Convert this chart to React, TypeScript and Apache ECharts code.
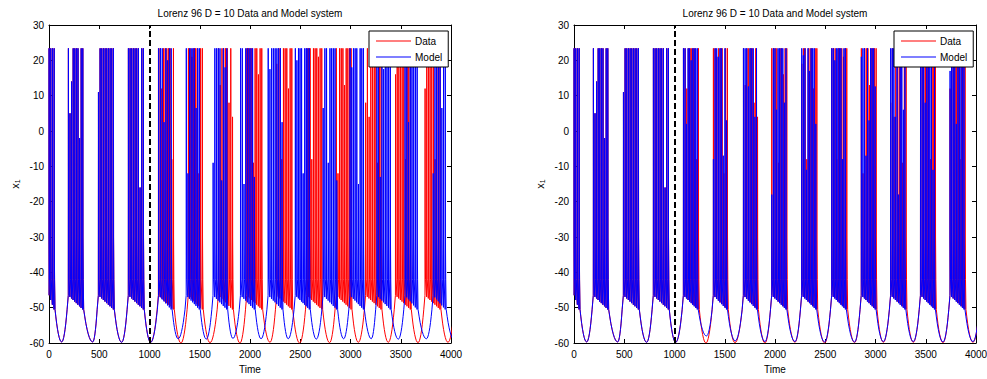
import React, { useEffect, useRef } from 'react';
import * as echarts from 'echarts';

const FONT = '"Liberation Sans", Arial, Helvetica, sans-serif';
const TITLE = 'Lorenz 96 D = 10 Data and Model system';

// ---- axis ticks ----
const X_MIN = 0, X_MAX = 4000, X_STEP = 500;
const Y_MIN = -60, Y_MAX = 30, Y_STEP = 10;
const SYNC_END = 1000; // end of the synchronisation window (dashed line)

// ---- spike shape ----
const SPIKE_BASE = [-46.5, -50.5];        // inter-spike minimum at first / last spike
const SPIKE_DT = [1.2, 2.6, 5.5];          // time after spike onset
const SPIKE_FALL = [-30, -42];             // values after the peak
const PLATEAU = -50.6;
const DESC_F = [0, 0.125, 0.25, 0.375, 0.5, 0.625, 0.75, 0.875, 1];
const DESC_G = [0, 0.23, 0.44, 0.61, 0.75, 0.86, 0.94, 0.985, 1];
const RISE_F = [0, 0.125, 0.25, 0.375, 0.5, 0.625, 0.75, 0.875, 1];
const RISE_G = [1, 0.985, 0.94, 0.86, 0.75, 0.61, 0.44, 0.23, 0];

// spike peaks before t = 1000 (data and model coincide)
const earlyPeaks = [
  23.4, 23.4, 23.4, 23.4,
  23.4, 5, 14, 23.4, 23.4, 23.4, 23.4, -2, 23.4, 23.4,
  11, 23.4, 23.4, 23.4, 23.4, 23.4, 23.4, 23.4, 23.4, 23.4,
  23.4, 23.4, 23.4, 23.4, 23.4, 23.4, 23.4, -16, 23.4, 23.4,
];

// ---- Data (red), same in both panels ----
const dataBurstStart = [0, 192, 491, 789, 1088, 1386, 1685, 1967, 2265, 2564, 2858, 3150, 3447, 3741];
const dataBurstEnd = [50, 335, 640, 938, 1237, 1525, 1825, 2116, 2415, 2713, 3005, 3303, 3595, 3890];
const dataSpikes = [4, 10, 10, 10, 10, 9, 9, 10, 10, 10, 10, 10, 10, 10];
const dataTroughT = [126, 435, 723, 1012, 1313, 1602, 1900, 2199, 2494, 2792, 3078, 3376, 3672, 3970];
const dataTroughV = [-59.7, -59.7, -59.8, -59.8, -60, -59.9, -60, -59.8, -60, -59.9, -59.8, -59.8, -59.9, -59.8];
const dataLatePeaks = [
  23.4, 23.4, 12, 23.4, 23.4, 23.4, 23.4, 23.4, -8, 23.4, 23.4, 23.4, 21, 23.4, 23.4,
  23.4, -12, 23.4, 23.4, 23.4, 13, 23.4, 23.4, 23.4, 23.4, 8, 23.4, 4, 23.4, 23.4,
  23.4, 23.4, -9, 23.4, 23.4, 16, 23.4, 23.4, 19, 23.4, 23.4, -8, 23.4,
];

// ---- Model, left panel (free run after t = 1000) ----
const leftBurstStart = [0, 192, 491, 789, 1090, 1365, 1632, 1905, 2180, 2450, 2727, 2995, 3262, 3542, 3822];
const leftBurstEnd = [50, 335, 640, 938, 1215, 1495, 1768, 2042, 2318, 2590, 2862, 3128, 3395, 3662, 3942];
const leftSpikes = [4, 10, 10, 10, 8, 9, 9, 9, 9, 10, 9, 9, 9, 8, 8];
const leftTroughT = [126, 435, 723, 1012, 1285, 1565, 1830, 2110, 2380, 2660, 2932, 3207, 3476, 3755, 4030];
const leftTroughV = [-59.7, -59.7, -59.8, -59.8, -58.8, -58.9, -58.7, -58.8, -58.8, -58.9, -58.8, -58.8, -58.9, -58.8, -59];
const leftLatePeaks = [
  23.4, 23.4, 23.4, 2.5, 23.4, 20, 23.4, 23.4, 23.4, -12, 23.4, 23.4, 23.4, 23.4, 6.5,
  23.4, 23.4, -9, 23.4, 23.4, 23.4, 23.4, -14, 23.4, 18, 23.4, 23.4, 23.4, -15, 23.4,
  23.4, 23.4, 23.4, 23.4, -13, 23.4, 17.5, 23.4, 23.4, 23.4,
];

// ---- Model, right panel (synchronised) ----
const rightBurstStart = [0, 192, 491, 789, 1088, 1386, 1685, 1967, 2265, 2564, 2858, 3150, 3447, 3741];
const rightBurstEnd = [50, 335, 640, 938, 1226, 1517, 1815, 2108, 2405, 2700, 2996, 3292, 3586, 3880];
const rightSpikes = [4, 10, 10, 10, 10, 9, 9, 10, 10, 10, 10, 10, 10, 10];
const rightTroughT = [126, 435, 723, 1012, 1318, 1604, 1900, 2199, 2494, 2792, 3078, 3376, 3672, 3970];
const rightTroughV = [-59.7, -59.7, -59.8, -59.8, -58, -59.4, -59.6, -59.6, -59.7, -59.7, -59.6, -59.6, -59.7, -59.6];
const rightLatePeaks = [
  23.4, 23.4, 2, 23.4, 23.4, 20, 23.4, 23.4, 23.4, 23.4, -8, 23.4, 23.4, 21, 23.4,
  23.4, -7, 23.4, 3, 23.4, 23.4, 23.4, 12.6, 23.4, 23.4, 23.4, 4, 23.4, -18, 23.4,
  23.4, 6, 23.4, 23.4, 23.4, 23.4, 8, 23.4, 23.4, 21.4, 23.4, -11, 23.4, 17, 23.4,
];

function buildTrace(
  starts: number[], ends: number[], counts: number[],
  troughT: number[], troughV: number[], latePeaks: number[],
): [number, number][] {
  const pts: [number, number][] = [];
  let ei = 0, li = 0;
  for (let b = 0; b < starts.length; b++) {
    const s = starts[b], e = ends[b], n = counts[b];
    if (b > 0) pts.push([s - 12, PLATEAU]);
    const step = n > 1 ? (e - s) / (n - 1) : 0;
    for (let k = 0; k < n; k++) {
      const ts = s + k * step;
      const frac = n > 1 ? k / (n - 1) : 0;
      const base = SPIKE_BASE[0] + (SPIKE_BASE[1] - SPIKE_BASE[0]) * frac;
      const peak = ts < SYNC_END
        ? earlyPeaks[ei++ % earlyPeaks.length]
        : latePeaks[li++ % latePeaks.length];
      pts.push([ts, base]);
      pts.push([ts + SPIKE_DT[0], peak]);
      pts.push([ts + SPIKE_DT[1], Math.min(peak, SPIKE_FALL[0])]);
      pts.push([ts + SPIKE_DT[2], SPIKE_FALL[1]]);
    }
    const d0 = e + 10;
    pts.push([d0, -50.5]);
    const tt = troughT[b], tv = troughV[b];
    for (let j = 1; j < DESC_F.length; j++) {
      pts.push([d0 + DESC_F[j] * (tt - d0), -50.5 + DESC_G[j] * (tv + 50.5)]);
    }
    const nextS = b + 1 < starts.length ? starts[b + 1] : tt + 75;
    const r1 = nextS - 12;
    for (let j = 1; j < RISE_F.length; j++) {
      pts.push([tt + RISE_F[j] * (r1 - tt), PLATEAU + RISE_G[j] * (tv - PLATEAU)]);
    }
  }
  return pts;
}

const dataTrace = buildTrace(dataBurstStart, dataBurstEnd, dataSpikes, dataTroughT, dataTroughV, dataLatePeaks);
const leftTrace = buildTrace(leftBurstStart, leftBurstEnd, leftSpikes, leftTroughT, leftTroughV, leftLatePeaks);
const rightTrace = buildTrace(rightBurstStart, rightBurstEnd, rightSpikes, rightTroughT, rightTroughV, rightLatePeaks);

const GRIDS = [
  { left: 49, top: 25, width: 402, height: 318 },
  { left: 574, top: 25, width: 402, height: 318 },
];

const axisBase = {
  type: 'value' as const,
  axisLine: { show: true, onZero: false, lineStyle: { color: '#000', width: 1 } },
  axisTick: { show: true, inside: true, length: 4, lineStyle: { color: '#000' } },
  splitLine: { show: false },
};
const labelStyle = {
  color: '#000', fontSize: 10, fontFamily: FONT,
  formatter: (v: number) => String(v),
};

function xAxes(g: number) {
  return [
    {
      ...axisBase, gridIndex: g, min: X_MIN, max: X_MAX, interval: X_STEP, position: 'bottom',
      axisLabel: { ...labelStyle, margin: 6 },
      name: 'Time', nameLocation: 'middle', nameGap: 21,
      nameTextStyle: { color: '#000', fontSize: 10, fontFamily: FONT },
    },
    {
      ...axisBase, gridIndex: g, min: X_MIN, max: X_MAX, interval: X_STEP, position: 'top',
      axisLabel: { show: false },
    },
  ];
}
function yAxes(g: number) {
  return [
    {
      ...axisBase, gridIndex: g, min: Y_MIN, max: Y_MAX, interval: Y_STEP, position: 'left',
      axisLabel: { ...labelStyle, margin: 5 },
      name: '{a|x}{b|1}', nameLocation: 'middle', nameGap: 28, nameRotate: 90,
      nameTextStyle: {
        color: '#000', fontFamily: FONT,
        rich: {
          a: { fontSize: 11, fontFamily: FONT, color: '#000' },
          b: { fontSize: 7, fontFamily: FONT, color: '#000', verticalAlign: 'bottom', padding: [5, 0, 0, 0] },
        },
      },
    },
    {
      ...axisBase, gridIndex: g, min: Y_MIN, max: Y_MAX, interval: Y_STEP, position: 'right',
      axisLabel: { show: false },
    },
  ];
}

function lineSeries(name: string, color: string, data: [number, number][], g: number, dashed: boolean) {
  const s: any = {
    type: 'line', name, data,
    xAxisIndex: g * 2, yAxisIndex: g * 2,
    showSymbol: false, symbol: 'none', smooth: false, clip: true,
    lineStyle: { color, width: 1 }, itemStyle: { color },
    emphasis: { disabled: true }, silent: true, animation: false,
    progressive: 0,
  };
  if (dashed) {
    s.markLine = {
      silent: true, symbol: ['none', 'none'], label: { show: false },
      lineStyle: { color: '#000', width: 2, type: [6, 3] },
      emphasis: { disabled: true },
      data: [{ xAxis: SYNC_END }],
    };
  }
  return s;
}

function legend(left: number) {
  return {
    left, top: 31, orient: 'vertical', data: ['Data', 'Model'],
    icon: 'rect', itemWidth: 35, itemHeight: 1, itemGap: 6,
    padding: [5, 6, 5, 7], borderColor: '#000', borderWidth: 1, borderRadius: 0,
    backgroundColor: '#fff', selectedMode: false,
    textStyle: { color: '#000', fontSize: 10, fontFamily: FONT, padding: [0, 0, 0, -1] },
  };
}

const option: any = {
  animation: false,
  backgroundColor: '#fff',
  grid: GRIDS.map((g) => ({ ...g, containLabel: false, outerBoundsMode: 'none', show: false })),
  xAxis: [...xAxes(0), ...xAxes(1)],
  yAxis: [...yAxes(0), ...yAxes(1)],
  legend: [legend(369), legend(894)],
  graphic: [0, 1].map((g) => ({
    type: 'text', x: GRIDS[g].left + GRIDS[g].width / 2, y: 13, silent: true,
    style: {
      text: TITLE, fill: '#000', fontSize: 10, fontFamily: FONT,
      align: 'center', verticalAlign: 'middle', textAlign: 'center', textVerticalAlign: 'middle',
    },
  })),
  series: [
    lineSeries('Data', '#ff0000', dataTrace, 0, false),
    lineSeries('Model', '#0000ff', leftTrace, 0, true),
    lineSeries('Data', '#ff0000', dataTrace, 1, false),
    lineSeries('Model', '#0000ff', rightTrace, 1, true),
  ],
};

export default function App() {
  const ref = useRef<HTMLDivElement>(null);
  useEffect(() => {
    document.body.style.margin = '0';
    const chart = echarts.init(ref.current!, null, { renderer: 'svg' });
    chart.setOption(option);
    return () => chart.dispose();
  }, []);
  return <div ref={ref} style={{ width: 987, height: 379 }} />;
}
